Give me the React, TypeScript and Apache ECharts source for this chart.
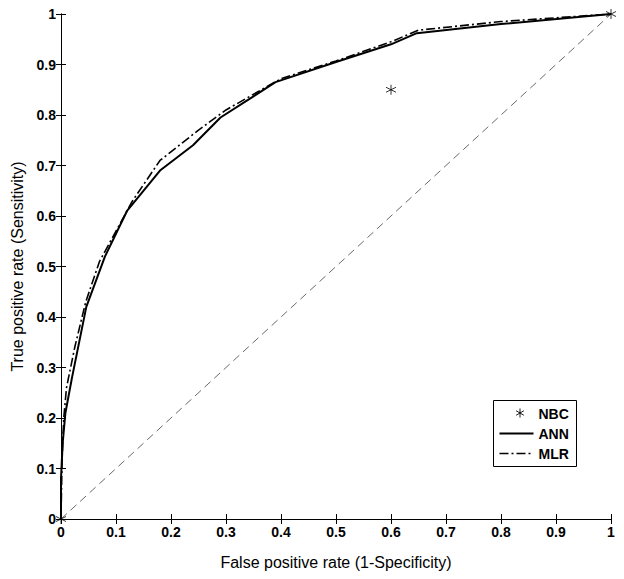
import React, { useEffect, useRef } from "react";
import * as echarts from "echarts";

const nbcPoints: [number, number][] = [[0, 0], [0.6, 0.85], [1, 1]];
const annPoints: [number, number][] = [
  [0, 0], [0, 0.08], [0.003, 0.15], [0.008, 0.21], [0.02, 0.28], [0.046, 0.42],
  [0.08, 0.52], [0.12, 0.61], [0.18, 0.69], [0.24, 0.74], [0.29, 0.795],
  [0.39, 0.865], [0.5, 0.905], [0.6, 0.94], [0.647, 0.962], [0.8, 0.98], [1, 1],
];
const mlrPoints: [number, number][] = [
  [0, 0], [0.002, 0.12], [0.005, 0.2], [0.01, 0.26], [0.025, 0.34], [0.045, 0.43],
  [0.07, 0.51], [0.1, 0.57], [0.13, 0.63], [0.18, 0.71], [0.25, 0.77], [0.3, 0.81],
  [0.4, 0.872], [0.5, 0.907], [0.6, 0.945], [0.65, 0.968], [0.8, 0.985], [1, 1],
];
const diagonal: [number, number][] = [[0, 0], [1, 1]];
const legendNames = ["NBC", "ANN", "MLR"];

const STAR_D = "M5,0L5,10M0.7,2.5L9.3,7.5M0.7,7.5L9.3,2.5";
const STAR = "path://" + STAR_D;

echarts.graphic.registerShape("starmark", echarts.graphic.extendPath(STAR_D, {}) as any);

export default function App() {
  const ref = useRef<HTMLDivElement>(null);
  useEffect(() => {
    if (!ref.current) return;
    const chart = echarts.init(ref.current, null, { renderer: "svg" });
    const font = "Liberation Sans, Arial, sans-serif";
    const axisCommon = {
      type: "value" as const,
      min: 0,
      max: 1,
      interval: 0.1,
      splitLine: { show: false },
      axisLine: { show: true, lineStyle: { color: "#000", width: 1 } },
      axisTick: { show: true, inside: true, length: 5, lineStyle: { color: "#000" } },
    };
    const textStyle = { fill: "#000", fontSize: 14, fontWeight: "bold", fontFamily: font, verticalAlign: "middle" };
    chart.setOption({
      animation: false,
      backgroundColor: "#fff",
      textStyle: { fontFamily: font },
      grid: { left: 61, right: 13, top: 14, bottom: 60 },
      xAxis: [
        {
          ...axisCommon,
          position: "bottom",
          name: "False positive rate (1-Specificity)",
          nameLocation: "middle",
          nameGap: 35,
          nameTextStyle: { color: "#000", fontSize: 16, fontFamily: font },
          axisLabel: { color: "#000", fontSize: 14, fontWeight: "bold", margin: 6, fontFamily: font },
        },
        { ...axisCommon, position: "top", axisLabel: { show: false } },
      ],
      yAxis: [
        {
          ...axisCommon,
          position: "left",
          name: "True positive rate (Sensitivity)",
          nameLocation: "middle",
          nameGap: 36,
          nameTextStyle: { color: "#000", fontSize: 16, fontFamily: font },
          axisLabel: { color: "#000", fontSize: 14, fontWeight: "bold", margin: 5, fontFamily: font },
        },
        { ...axisCommon, position: "right", axisLabel: { show: false } },
      ],
      graphic: [
        {
          type: "group",
          left: 493,
          top: 400,
          z: 100,
          children: [
            { type: "rect", shape: { x: 0, y: 0, width: 83, height: 66 }, style: { fill: "#fff", stroke: "#000", lineWidth: 1 } },
            { type: "starmark", x: 22, y: 8, scaleX: 0.9, scaleY: 0.9, style: { fill: "none", stroke: "#000", lineWidth: 1 } },
            { type: "text", x: 45, y: 13, style: { ...textStyle, text: legendNames[0] } },
            { type: "line", shape: { x1: 6, y1: 33, x2: 40, y2: 33 }, style: { stroke: "#000", lineWidth: 2 } },
            { type: "text", x: 45, y: 33, style: { ...textStyle, text: legendNames[1] } },
            { type: "line", shape: { x1: 6, y1: 53, x2: 40, y2: 53 }, style: { stroke: "#000", lineWidth: 1.6, lineDash: [9, 3, 2, 3] } },
            { type: "text", x: 45, y: 53, style: { ...textStyle, text: legendNames[2] } },
          ],
        },
      ],
      series: [
        {
          name: "diag",
          type: "line",
          data: diagonal,
          symbol: "none",
          lineStyle: { color: "#444", width: 0.8, type: [8, 5] },
          silent: true,
          z: 1,
        },
        {
          name: "MLR",
          type: "line",
          data: mlrPoints,
          symbol: "none",
          color: "#000",
          lineStyle: { color: "#000", width: 1.6, type: [9, 3, 2, 3] },
          z: 2,
        },
        {
          name: "ANN",
          type: "line",
          data: annPoints,
          symbol: "none",
          color: "#000",
          lineStyle: { color: "#000", width: 2 },
          z: 3,
        },
        {
          name: "NBC",
          type: "scatter",
          data: nbcPoints,
          symbol: STAR,
          symbolSize: 10,
          itemStyle: { color: "none", borderColor: "#000", borderWidth: 1 },
          z: 4,
        },
      ],
    });
    return () => chart.dispose();
  }, []);
  return <div ref={ref} style={{ position: "absolute", left: 0, top: 0, width: 624, height: 579 }} />;
}
